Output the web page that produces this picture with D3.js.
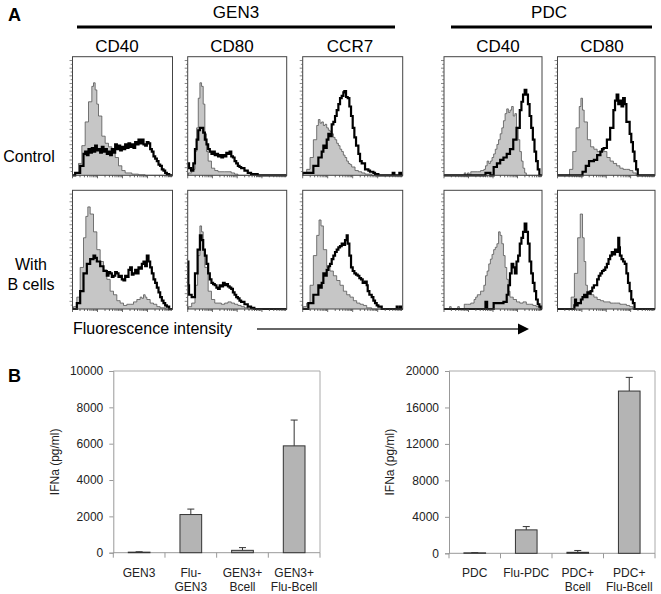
<!DOCTYPE html>
<html><head><meta charset="utf-8">
<script src="https://cdn.jsdelivr.net/npm/d3@7"></script>
<style>body{margin:0;background:#fff}svg{display:block}text{font-family:Arial,'Liberation Sans',sans-serif}</style>
</head><body><svg id="c" width="661" height="594"></svg>
<script>
// ---------- DATA ----------
const groupNames = ["GEN3", "PDC"];
const markerNames = [["CD40", "CD80", "CCR7"], ["CD40", "CD80"]];
const rowNames = [["Control"], ["With", "B cells"]];

// histograms: [channel (0-300), relative count (0-100)]
const gen3CD40CtrlIso = [[0,0],[8,2],[18,10],[28,25],[38,45],[48,62],[58,75],[63,78],[68,72],[73,60],[78,50],[88,33],[98,27],[108,24],[118,20],[128,15],[138,8],[148,4],[158,2],[178,1],[198,0.5],[218,0],[300,0]];
const gen3CD40CtrlStain = [[0,0],[8,2],[23,8],[33,18],[38,20],[43,17],[48,22],[53,19],[58,23],[63,20],[68,25],[73,21],[78,22],[83,19],[88,24],[93,20],[98,22],[103,18],[108,20],[113,17],[118,22],[123,19],[128,26],[133,22],[138,25],[143,21],[148,24],[153,22],[158,26],[163,23],[168,27],[173,24],[178,26],[183,23],[188,28],[193,26],[198,30],[203,27],[208,30],[213,26],[218,25],[223,28],[228,27],[233,22],[238,20],[243,16],[248,14],[253,12],[258,9],[263,8],[268,5],[273,4],[278,2],[283,1],[290,0],[300,0]];
const gen3CD80CtrlIso = [[0,0],[2,2],[12,5],[22,20],[27,40],[32,65],[37,78],[42,75],[47,60],[52,35],[57,20],[62,12],[72,6],[82,4],[92,3],[112,3],[132,2],[142,1],[152,0],[300,0]];
const gen3CD80CtrlStain = [[0,10],[4,6],[10,4],[17,10],[22,22],[27,30],[32,38],[37,40],[42,40],[47,36],[52,30],[57,26],[62,22],[67,20],[72,18],[77,20],[82,17],[87,18],[92,16],[97,17],[102,15],[107,17],[112,16],[117,19],[122,18],[127,20],[132,16],[137,15],[142,12],[147,10],[152,8],[157,7],[162,6],[172,4],[182,2],[192,1],[202,1],[212,0],[300,0]];
const gen3CCR7CtrlIso = [[0,0],[2,2],[12,5],[22,15],[32,30],[42,42],[47,47],[52,44],[57,45],[62,42],[67,43],[72,40],[77,38],[82,37],[87,35],[92,32],[97,30],[102,27],[107,25],[112,22],[117,20],[122,17],[127,15],[132,12],[137,10],[142,9],[147,7],[157,4],[167,3],[177,2],[187,1],[207,0],[300,0]];
const gen3CCR7CtrlStain = [[0,2],[17,2],[32,8],[47,15],[57,20],[62,25],[67,23],[72,30],[77,35],[82,33],[87,43],[92,45],[97,50],[102,55],[107,60],[112,65],[117,67],[122,70],[125,71],[130,66],[135,65],[140,58],[145,50],[150,40],[155,32],[160,25],[167,18],[172,12],[177,10],[187,5],[197,4],[202,3],[207,3],[212,2],[217,1],[227,0],[267,0],[270,2],[275,0],[285,0],[290,2],[295,0],[300,0]];
const pdcCD40CtrlIso = [[0,0],[52,0],[62,2],[67,0],[72,2],[77,0],[82,3],[102,3],[112,4],[122,5],[127,8],[132,12],[137,10],[142,12],[147,15],[152,18],[157,22],[162,26],[167,30],[172,35],[177,40],[182,46],[187,52],[192,56],[197,53],[202,55],[207,58],[212,50],[217,52],[222,40],[227,30],[232,20],[237,12],[242,6],[247,2],[252,0],[300,0]];
const pdcCD40CtrlStain = [[0,0],[122,0],[127,2],[137,2],[142,0],[152,0],[152,7],[162,10],[172,13],[182,15],[192,18],[202,22],[212,30],[222,40],[232,55],[237,62],[242,68],[247,72],[252,68],[257,60],[262,50],[267,40],[272,30],[277,20],[282,12],[287,5],[292,0],[300,0]];
const pdcCD80CtrlIso = [[0,0],[22,0],[37,5],[47,20],[57,40],[67,58],[72,65],[77,55],[82,45],[92,30],[102,24],[112,22],[122,20],[132,20],[137,22],[142,20],[152,15],[162,12],[172,10],[182,8],[192,6],[202,5],[212,5],[222,4],[232,2],[242,0],[300,0]];
const pdcCD80CtrlStain = [[0,0],[72,0],[77,3],[87,8],[97,12],[112,13],[122,17],[132,20],[137,22],[142,23],[152,30],[162,40],[172,55],[177,63],[182,68],[187,60],[192,63],[197,58],[202,65],[207,60],[212,45],[222,35],[227,28],[232,20],[237,12],[242,5],[247,0],[300,0]];

const gen3CD40BIso = [[0,0],[3,2],[13,10],[23,35],[33,60],[40,78],[46,86],[53,80],[63,65],[73,50],[83,40],[93,33],[103,25],[113,15],[123,12],[133,7],[143,5],[153,3],[163,4],[173,4],[183,6],[193,8],[203,10],[208,9],[213,12],[218,10],[223,8],[233,5],[243,4],[253,2],[263,1],[278,0],[300,0]];
const gen3CD40BStain = [[0,0],[3,0],[13,5],[23,15],[33,30],[43,38],[53,42],[63,45],[68,43],[73,40],[83,36],[93,32],[103,28],[108,31],[113,30],[118,27],[123,28],[128,31],[133,30],[138,27],[143,28],[148,25],[153,24],[158,28],[163,27],[168,33],[173,35],[178,29],[183,30],[188,33],[193,30],[198,35],[203,34],[208,38],[213,40],[218,36],[223,45],[228,40],[233,35],[238,30],[243,25],[248,22],[253,18],[258,14],[263,10],[268,7],[273,5],[278,3],[283,2],[290,0],[300,0]];
const gen3CD80BIso = [[0,0],[2,2],[12,5],[22,20],[30,45],[37,70],[42,65],[47,50],[52,35],[62,15],[72,8],[82,5],[92,5],[102,4],[112,5],[122,6],[132,5],[142,4],[152,3],[162,2],[172,1],[182,0],[300,0]];
const gen3CD80BStain = [[0,40],[2,20],[4,12],[12,10],[22,30],[30,50],[37,62],[42,58],[47,50],[52,45],[57,38],[62,30],[67,25],[72,22],[77,21],[82,20],[87,18],[92,17],[97,20],[102,19],[107,22],[112,20],[117,21],[122,19],[127,18],[132,17],[137,14],[142,12],[147,10],[152,9],[157,7],[162,6],[172,4],[182,2],[192,1],[202,0],[300,0]];
const gen3CCR7BIso = [[0,0],[2,2],[12,5],[22,20],[32,45],[42,62],[49,75],[55,70],[62,50],[72,35],[82,32],[92,28],[102,24],[112,20],[122,15],[132,12],[142,10],[152,7],[162,5],[172,4],[182,3],[192,1],[207,0],[300,0]];
const gen3CCR7BStain = [[0,0],[17,5],[32,12],[47,20],[52,18],[57,22],[62,30],[67,28],[72,33],[77,36],[82,38],[87,42],[92,45],[97,48],[102,50],[107,52],[112,53],[117,55],[122,54],[127,58],[132,62],[135,55],[140,45],[145,35],[150,32],[155,30],[160,29],[165,28],[170,26],[175,25],[180,22],[187,23],[192,20],[195,15],[200,12],[207,10],[212,7],[217,5],[222,3],[227,2],[237,0],[277,0],[282,2],[285,0],[292,2],[295,0],[300,0]];
const pdcCD40BIso = [[0,0],[2,0],[17,2],[22,0],[42,2],[47,0],[62,4],[72,4],[82,5],[92,8],[97,10],[102,12],[112,15],[122,20],[127,28],[132,32],[137,38],[142,42],[147,46],[152,50],[157,52],[162,55],[167,65],[172,62],[177,55],[182,45],[187,35],[192,25],[197,15],[202,10],[212,8],[222,6],[232,5],[242,6],[252,4],[262,4],[272,3],[282,2],[292,0],[300,0]];
const pdcCD40BStain = [[0,0],[122,0],[127,6],[132,0],[152,0],[152,5],[162,5],[182,6],[192,12],[197,20],[202,30],[207,38],[212,35],[217,30],[222,40],[227,45],[232,55],[237,60],[242,65],[247,72],[252,65],[257,55],[262,40],[267,30],[272,22],[277,15],[282,8],[287,4],[292,2],[297,0],[300,0]];
const pdcCD80BIso = [[0,0],[32,0],[42,10],[52,30],[62,60],[70,80],[77,60],[82,40],[87,20],[92,15],[102,12],[112,10],[122,8],[132,7],[142,6],[152,6],[162,5],[172,5],[182,5],[192,4],[202,4],[212,3],[222,2],[232,0],[300,0]];
const pdcCD80BStain = [[0,0],[47,0],[52,3],[54,8],[57,3],[62,5],[72,8],[77,10],[82,12],[87,10],[92,14],[97,13],[102,15],[107,18],[112,20],[117,20],[122,25],[127,28],[132,30],[137,32],[142,33],[147,35],[152,38],[157,42],[162,45],[167,48],[172,46],[177,50],[182,48],[187,60],[190,52],[192,45],[197,42],[202,40],[207,38],[212,30],[217,22],[222,15],[227,8],[232,5],[237,0],[300,0]];

// bar charts
const gen3Categories = ["GEN3", "Flu-GEN3", "GEN3+Bcell", "GEN3+Flu-Bcell"];
const gen3Labels = [["GEN3"], ["Flu-", "GEN3"], ["GEN3+", "Bcell"], ["GEN3+", "Flu-Bcell"]];
const gen3Values = [30, 2100, 130, 5880];
const gen3Errors = [20, 300, 150, 1420];
const gen3Ticks = [0, 2000, 4000, 6000, 8000, 10000];

const pdcCategories = ["PDC", "Flu-PDC", "PDC+Bcell", "PDC+Flu-Bcell"];
const pdcLabels = [["PDC"], ["Flu-PDC"], ["PDC+", "Bcell"], ["PDC+", "Flu-Bcell"]];
const pdcValues = [50, 2570, 110, 17800];
const pdcErrors = [30, 360, 200, 1500];
const pdcTicks = [0, 4000, 8000, 12000, 16000, 20000];

const yTitle = "IFNa (pg/ml)";

// ---------- DRAW ----------
const svg = d3.select("#c");
const FONT = "Arial,'Liberation Sans',sans-serif";

svg.append("text").attr("x", 8).attr("y", 21).attr("font-size", 18).attr("font-weight", "bold").text("A");
svg.append("text").attr("x", 8).attr("y", 382).attr("font-size", 18).attr("font-weight", "bold").text("B");

const groupLayout = [{cx: 236, x0: 77, x1: 395}, {cx: 549, x0: 451, x1: 652}];
groupNames.forEach((g, i) => {
  const L = groupLayout[i];
  svg.append("text").attr("x", L.cx).attr("y", 17.5).attr("text-anchor", "middle").attr("font-size", 17).text(g);
  svg.append("line").attr("x1", L.x0).attr("x2", L.x1).attr("y1", 27).attr("y2", 27).attr("stroke", "#000").attr("stroke-width", 3);
});

const cols = [
  {x: 72.5, w: 100, lab: markerNames[0][0], lx: 117},
  {x: 187.7, w: 99, lab: markerNames[0][1], lx: 232},
  {x: 302.7, w: 100, lab: markerNames[0][2], lx: 350},
  {x: 444, w: 98, lab: markerNames[1][0], lx: 498},
  {x: 557.5, w: 97.5, lab: markerNames[1][1], lx: 602}
];
cols.forEach(c => svg.append("text").attr("x", c.lx).attr("y", 51.5).attr("text-anchor", "middle").attr("font-size", 17).text(c.lab));

const rows = [{y: 56.7, h: 118.6}, {y: 190.3, h: 118.7}];
const histData = [
  [[gen3CD40CtrlIso, gen3CD40CtrlStain], [gen3CD80CtrlIso, gen3CD80CtrlStain], [gen3CCR7CtrlIso, gen3CCR7CtrlStain], [pdcCD40CtrlIso, pdcCD40CtrlStain], [pdcCD80CtrlIso, pdcCD80CtrlStain]],
  [[gen3CD40BIso, gen3CD40BStain], [gen3CD80BIso, gen3CD80BStain], [gen3CCR7BIso, gen3CCR7BStain], [pdcCD40BIso, pdcCD40BStain], [pdcCD80BIso, pdcCD80BStain]]
];

svg.append("text").attr("x", 29).attr("y", 162).attr("text-anchor", "middle").attr("font-size", 16).text(rowNames[0][0]);
svg.append("text").attr("x", 31).attr("y", 270).attr("text-anchor", "middle").attr("font-size", 16).text(rowNames[1][0]);
svg.append("text").attr("x", 31).attr("y", 290).attr("text-anchor", "middle").attr("font-size", 16).text(rowNames[1][1]);

rows.forEach((r, ri) => {
  cols.forEach((c, ci) => {
    const g = svg.append("g").attr("transform", `translate(${c.x},${r.y})`);
    const x = d3.scaleLinear().domain([0, 300]).range([0, c.w]);
    const y = d3.scaleLinear().domain([0, 100]).range([r.h, 0]);
    const [iso, stain] = histData[ri][ci];
    const area = d3.area().x(d => x(d[0])).y0(y(0)).y1(d => y(d[1])).curve(d3.curveStepAfter);
    const line = d3.line().x(d => x(d[0])).y(d => y(d[1])).curve(d3.curveStepAfter);
    g.append("path").attr("d", area(iso)).attr("fill", "#c6c6c6");
    g.append("path").attr("d", line(iso)).attr("fill", "none").attr("stroke", "#555").attr("stroke-width", 0.8);
    g.append("path").attr("d", line(stain)).attr("fill", "none").attr("stroke", "#000").attr("stroke-width", 2.2).attr("stroke-linejoin", "miter");
    g.append("rect").attr("x", 0).attr("y", 0).attr("width", c.w).attr("height", r.h).attr("fill", "none").attr("stroke", "#444").attr("stroke-width", 1);
    d3.range(1, 31).forEach(k => {
      const yy = r.h - k * r.h / 31;
      g.append("line").attr("x1", k % 2 ? -1.8 : -3).attr("x2", 0).attr("y1", yy).attr("y2", yy).attr("stroke", "#555").attr("stroke-width", 0.7);
    });
    const lx = d3.scaleLinear().domain([0, 4]).range([0, c.w]);
    for (let d = 0; d < 4; d++) {
      for (let k = 1; k <= 9; k++) {
        const v = d + Math.log10(k);
        g.append("line").attr("x1", lx(v)).attr("x2", lx(v)).attr("y1", r.h).attr("y2", r.h + (k === 1 ? 3 : 2)).attr("stroke", "#444").attr("stroke-width", 0.8);
      }
    }
  });
});

svg.append("text").attr("x", 73).attr("y", 334).attr("font-size", 16).text("Fluorescence intensity");
svg.append("line").attr("x1", 257).attr("x2", 519).attr("y1", 329).attr("y2", 329).attr("stroke", "#333").attr("stroke-width", 1.3);
svg.append("path").attr("d", "M518,323.5 L529,329 L518,334.5 Z").attr("fill", "#000");

// ---------- BAR CHARTS ----------
function barChart(opt) {
  const {left, right, top, bottom, cats, labels, values, errors, ticks, titleX} = opt;
  const g = svg.append("g");
  const x = d3.scaleBand().domain(cats).range([left, right]).paddingInner(0).paddingOuter(0);
  const y = d3.scaleLinear().domain([0, ticks[ticks.length - 1]]).range([bottom, top]);
  g.append("line").attr("x1", left).attr("x2", right).attr("y1", top).attr("y2", top).attr("stroke", "#aaa");
  g.append("line").attr("x1", right).attr("x2", right).attr("y1", top).attr("y2", bottom).attr("stroke", "#aaa");
  const ya = g.append("g").attr("transform", `translate(${left},0)`).call(d3.axisLeft(y).tickValues(ticks).tickSize(4).tickPadding(6).tickFormat(d3.format("d")));
  ya.select(".domain").attr("stroke", "#999");
  ya.selectAll(".tick line").attr("stroke", "#999");
  ya.selectAll("text").attr("font-size", 12).attr("font-family", FONT).attr("fill", "#222");
  g.append("line").attr("x1", left).attr("x2", right).attr("y1", bottom).attr("y2", bottom).attr("stroke", "#999");
  cats.forEach(c => {
    const bx = x(c);
    g.append("line").attr("x1", bx).attr("x2", bx).attr("y1", bottom).attr("y2", bottom + 5).attr("stroke", "#999");
  });
  g.append("line").attr("x1", right).attr("x2", right).attr("y1", bottom).attr("y2", bottom + 5).attr("stroke", "#999");
  const bw = x.bandwidth() * 0.42;
  cats.forEach((c, i) => {
    const cx = x(c) + x.bandwidth() / 2;
    const top0 = y(values[i]);
    const etop = y(values[i] + errors[i]);
    g.append("line").attr("x1", cx).attr("x2", cx).attr("y1", top0).attr("y2", etop).attr("stroke", "#333");
    g.append("line").attr("x1", cx - 3.5).attr("x2", cx + 3.5).attr("y1", etop).attr("y2", etop).attr("stroke", "#333");
    g.append("rect").attr("x", cx - bw / 2).attr("y", top0).attr("width", bw).attr("height", bottom - top0)
      .attr("fill", "#b4b4b4").attr("stroke", "#333").attr("stroke-width", 1);
    labels[i].forEach((t, li) => {
      g.append("text").attr("x", cx).attr("y", bottom + 24 + li * 14).attr("text-anchor", "middle").attr("font-size", 12).attr("fill", "#222").text(t);
    });
  });
  g.append("text").attr("transform", `translate(${titleX},${(top + bottom) / 2}) rotate(-90)`).attr("text-anchor", "middle").attr("font-size", 12).attr("fill", "#222").text(yTitle);
}

barChart({left: 113.3, right: 320, top: 371, bottom: 552.7, cats: gen3Categories, labels: gen3Labels, values: gen3Values, errors: gen3Errors, ticks: gen3Ticks, titleX: 59});
barChart({left: 449, right: 655, top: 371, bottom: 553.3, cats: pdcCategories, labels: pdcLabels, values: pdcValues, errors: pdcErrors, ticks: pdcTicks, titleX: 394});
</script></body></html>
